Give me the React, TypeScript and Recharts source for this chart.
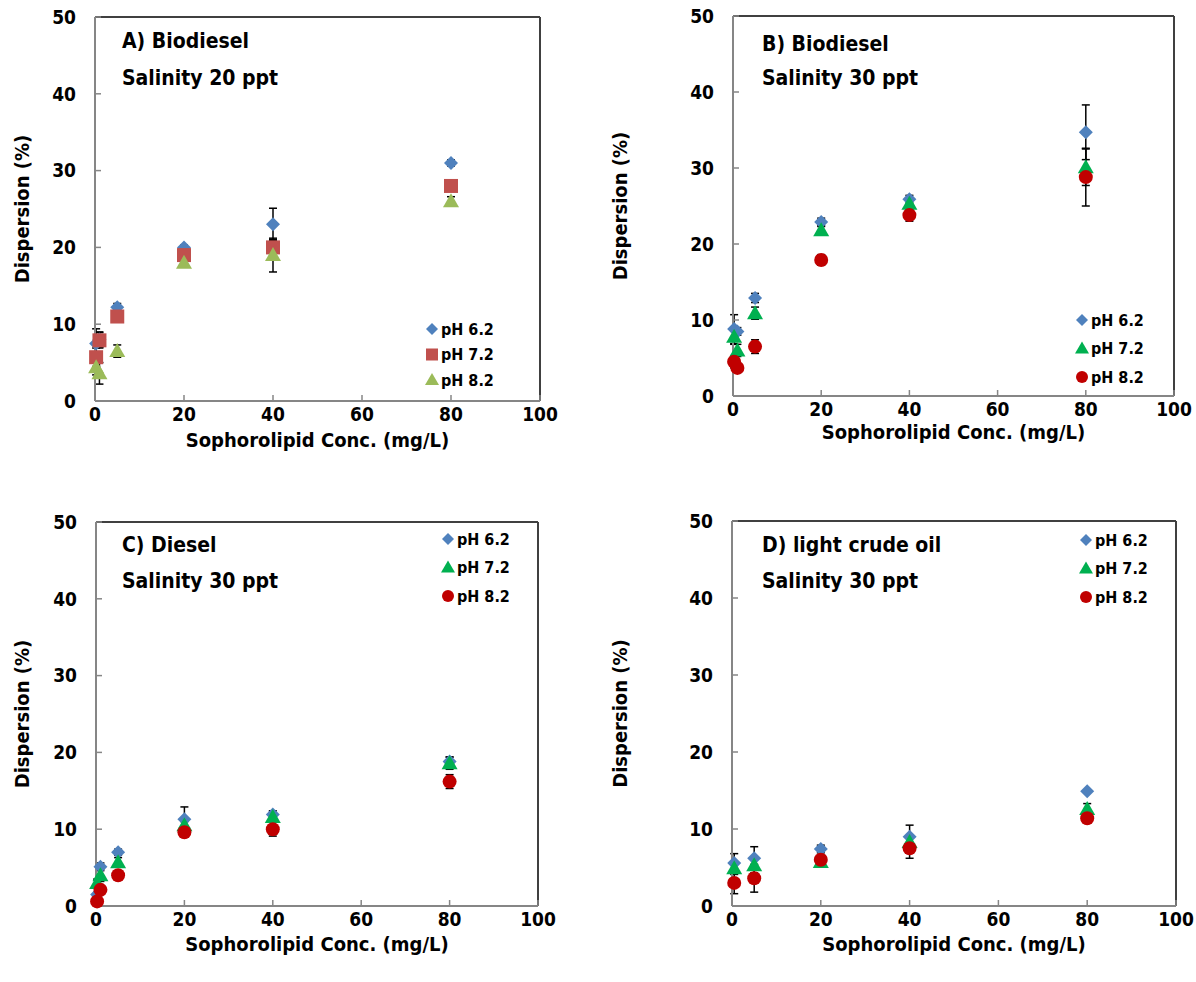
import React from 'react';
import {
  ScatterChart,
  Scatter,
  XAxis,
  YAxis,
  ErrorBar,
  ReferenceLine,
} from 'recharts';

const FONT = "'Liberation Sans Narrow', 'DejaVu Sans Condensed', 'Liberation Sans', sans-serif";

const xTicks = [0, 20, 40, 60, 80, 100];
const yTicks = [0, 10, 20, 30, 40, 50];
const seriesNames = ['pH 6.2', 'pH 7.2', 'pH 8.2'];

// A) Biodiesel, salinity 20 ppt
const concA = [0.25, 1, 5, 20, 40, 80];
const a62 = [7.5, 8.0, 12.2, 20, 23, 31];
const a62Err = [1.9, 1.0, 0.5, 0.3, 2.1, 0.4];
const a72 = [5.7, 7.9, 11, 19, 20, 28];
const a72Err = [1.2, 1.0, 0.5, 0.5, 1.0, 0.5];
const a82 = [4.4, 3.6, 6.5, 18, 19, 26];
const a82Err = [1.0, 1.4, 0.8, 0.5, 2.2, 0.6];

// B) Biodiesel, salinity 30 ppt
const concB = [0.25, 1, 5, 20, 40, 80];
const b62 = [8.8, 8.5, 12.9, 22.9, 25.9, 34.7];
const b62Err = [1.9, 0.5, 0.6, 0.5, 0.5, 3.6];
const b72 = [7.8, 6.0, 10.9, 21.8, 25.3, 30.1];
const b72Err = [1.0, 0.8, 0.8, 0.5, 0.8, 2.4];
const b82 = [4.5, 3.7, 6.5, 17.9, 23.8, 28.8];
const b82Err = [0.8, 0.6, 0.9, 0.7, 0.8, 3.8];

// C) Diesel, salinity 30 ppt
const concC = [0.25, 1, 5, 20, 40, 80];
const c62 = [1.5, 5.1, 7.0, 11.3, 11.9, 18.8];
const c62Err = [0.3, 0.5, 0.4, 1.6, 0.5, 0.6];
const c72 = [3.0, 4.0, 5.7, 10.5, 11.6, 18.6];
const c72Err = [0.5, 0.8, 0.6, 0.5, 0.6, 0.8];
const c82 = [0.6, 2.1, 4.0, 9.6, 10.0, 16.2];
const c82Err = [0.3, 0.5, 0.5, 0.5, 0.9, 0.9];

// D) light crude oil, salinity 30 ppt
const concD = [0.5, 5, 20, 40, 80];
const d62 = [5.6, 6.2, 7.4, 9.0, 14.9];
const d62Err = [1.2, 1.5, 0.5, 1.5, 0];
const d72 = [4.9, 5.3, 5.7, 8.3, 12.6];
const d72Err = [0.8, 1.0, 0.5, 0.8, 0.7];
const d82 = [3.0, 3.6, 6.0, 7.5, 11.4];
const d82Err = [1.4, 1.8, 0.5, 1.3, 0.5];

type Pt = { x: number; y: number; e: number };
const pts = (xs: number[], ys: number[], es: number[]): Pt[] =>
  xs.map((x, i) => ({ x, y: ys[i], e: es[i] }));

const BLUE = '#4f81bd';
const RED = '#c0504d';
const OLIVE = '#9bbb59';
const GREEN = '#00b050';
const DARKRED = '#c00000';

function marker(kind: string, cx: number, cy: number, fill: string, s = 7) {
  switch (kind) {
    case 'diamond':
      return <path d={`M${cx},${cy - s}L${cx + s},${cy}L${cx},${cy + s}L${cx - s},${cy}Z`} fill={fill} />;
    case 'square':
      return <rect x={cx - s} y={cy - s} width={2 * s} height={2 * s} fill={fill} />;
    case 'triangle':
      return <path d={`M${cx},${cy - s - 1}L${cx + s + 1},${cy + s - 1}L${cx - s - 1},${cy + s - 1}Z`} fill={fill} />;
    default:
      return <circle cx={cx} cy={cy} r={s} fill={fill} />;
  }
}

type Series = { name: string; data: Pt[]; color: string; kind: string };

type PanelProps = {
  left: number;
  top: number;
  plot: { l: number; r: number; t: number; b: number };
  title: string[];
  titleX: number;
  titleY: number[];
  xTitleGap: number;
  series: Series[];
  legend: { x: number; y: number; step: number };
};

const W = 598;
const H = 491;
const YW = 80;
const XH = 50;

function Panel({ left, top, plot, title, titleX, titleY, xTitleGap, series, legend }: PanelProps) {
  const margin = { top: plot.t, right: W - plot.r, left: plot.l - YW, bottom: H - plot.b - XH };
  const midY = (plot.t + plot.b) / 2;
  const midX = (plot.l + plot.r) / 2;
  const tickStyle = { fontSize: 19, fontWeight: 700, fill: '#000', fontFamily: FONT };
  const bold = { fontFamily: FONT, fontWeight: 700, fill: '#000' };

  return (
    <div style={{ position: 'absolute', left, top }}>
      <ScatterChart width={W} height={H} margin={margin}>
        <XAxis
          type="number"
          dataKey="x"
          domain={[0, 100]}
          ticks={xTicks}
          height={XH}
          axisLine={{ stroke: '#868686', strokeWidth: 2 }}
          tickLine={{ stroke: '#868686', strokeWidth: 1.5 }}
          tickSize={-6}
          tickMargin={13}
          tick={tickStyle}
        />
        <YAxis
          type="number"
          dataKey="y"
          domain={[0, 50]}
          ticks={yTicks}
          width={YW}
          axisLine={{ stroke: '#868686', strokeWidth: 2 }}
          tickLine={{ stroke: '#868686', strokeWidth: 1.5 }}
          tickSize={-6}
          tickMargin={25}
          tick={tickStyle}
        />
        <ReferenceLine y={50} stroke="#404040" strokeWidth={2} />
        <ReferenceLine x={100} stroke="#404040" strokeWidth={2} />
        {series.map((s) => (
          <Scatter
            key={s.name}
            name={s.name}
            data={s.data}
            fill={s.color}
            isAnimationActive={false}
            shape={(p: any) => marker(s.kind, p.cx, p.cy, s.color)}
          >
            <ErrorBar dataKey="e" direction="y" width={4} stroke="#000" strokeWidth={1.5} />
          </Scatter>
        ))}
        {series.map((s, i) => {
          const cy = legend.y + i * legend.step;
          return (
            <g key={`lg-${s.name}`}>
              {marker(s.kind, legend.x, cy, s.color, 6)}
              <text x={legend.x + 9} y={cy} dominantBaseline="central" style={{ ...bold, fontSize: 16 }}>
                {s.name}
              </text>
            </g>
          );
        })}
        <text
          x={22}
          y={midY}
          transform={`rotate(-90 22 ${midY})`}
          textAnchor="middle"
          dominantBaseline="central"
          style={{ ...bold, fontSize: 20 }}
        >
          Dispersion (%)
        </text>
        <text x={midX} y={plot.b + xTitleGap} textAnchor="middle" style={{ ...bold, fontSize: 20 }}>
          Sophorolipid Conc. (mg/L)
        </text>
        {title.map((t, i) => (
          <text key={t} x={titleX} y={titleY[i]} style={{ ...bold, fontSize: 21 }}>
            {t}
          </text>
        ))}
      </ScatterChart>
    </div>
  );
}

export default function App() {
  const panelA: Series[] = [
    { name: seriesNames[0], data: pts(concA, a62, a62Err), color: BLUE, kind: 'diamond' },
    { name: seriesNames[1], data: pts(concA, a72, a72Err), color: RED, kind: 'square' },
    { name: seriesNames[2], data: pts(concA, a82, a82Err), color: OLIVE, kind: 'triangle' },
  ];
  const panelB: Series[] = [
    { name: seriesNames[0], data: pts(concB, b62, b62Err), color: BLUE, kind: 'diamond' },
    { name: seriesNames[1], data: pts(concB, b72, b72Err), color: GREEN, kind: 'triangle' },
    { name: seriesNames[2], data: pts(concB, b82, b82Err), color: DARKRED, kind: 'circle' },
  ];
  const panelC: Series[] = [
    { name: seriesNames[0], data: pts(concC, c62, c62Err), color: BLUE, kind: 'diamond' },
    { name: seriesNames[1], data: pts(concC, c72, c72Err), color: GREEN, kind: 'triangle' },
    { name: seriesNames[2], data: pts(concC, c82, c82Err), color: DARKRED, kind: 'circle' },
  ];
  const panelD: Series[] = [
    { name: seriesNames[0], data: pts(concD, d62, d62Err), color: BLUE, kind: 'diamond' },
    { name: seriesNames[1], data: pts(concD, d72, d72Err), color: GREEN, kind: 'triangle' },
    { name: seriesNames[2], data: pts(concD, d82, d82Err), color: DARKRED, kind: 'circle' },
  ];

  return (
    <div style={{ position: 'absolute', left: 0, top: 0, width: 1196, height: 982, background: '#fff' }}>
      <Panel
        left={0}
        top={0}
        plot={{ l: 95, r: 540, t: 17, b: 401 }}
        title={['A) Biodiesel', 'Salinity 20 ppt']}
        titleX={122}
        titleY={[48, 85]}
        xTitleGap={46}
        series={panelA}
        legend={{ x: 432, y: 329, step: 25.5 }}
      />
      <Panel
        left={598}
        top={0}
        plot={{ l: 135, r: 576, t: 16, b: 396 }}
        title={['B) Biodiesel', 'Salinity 30 ppt']}
        titleX={164}
        titleY={[51, 85]}
        xTitleGap={43}
        series={panelB}
        legend={{ x: 484, y: 320, step: 28.5 }}
      />
      <Panel
        left={0}
        top={491}
        plot={{ l: 96, r: 538, t: 31, b: 415 }}
        title={['C) Diesel', 'Salinity 30 ppt']}
        titleX={122}
        titleY={[61, 97]}
        xTitleGap={45}
        series={panelC}
        legend={{ x: 448, y: 48, step: 28.5 }}
      />
      <Panel
        left={598}
        top={491}
        plot={{ l: 134, r: 578, t: 30, b: 415 }}
        title={['D) light crude oil', 'Salinity 30 ppt']}
        titleX={164}
        titleY={[61, 97]}
        xTitleGap={45}
        series={panelD}
        legend={{ x: 488, y: 49, step: 28.5 }}
      />
    </div>
  );
}
